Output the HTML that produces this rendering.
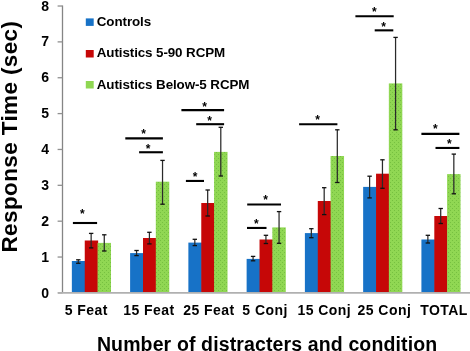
<!DOCTYPE html>
<html><head><meta charset="utf-8"><style>
html,body{margin:0;padding:0;background:#fff;}
body{width:470px;height:351px;overflow:hidden;font-family:"Liberation Sans",sans-serif;}
svg{display:block;will-change:transform;}
</style></head><body>
<svg width="470" height="351" viewBox="0 0 470 351">
<defs>
<pattern id="dots" width="4" height="4" patternUnits="userSpaceOnUse">
<rect width="4" height="4" fill="#90d753"/>
<rect x="0" y="0" width="1" height="1" fill="#76c040"/>
<rect x="2" y="2" width="1" height="1" fill="#76c040"/>
</pattern>
</defs>
<line x1="62.5" y1="5.42" x2="62.5" y2="292.90" stroke="#858585" stroke-width="1.3"/>
<line x1="57.6" y1="292.90" x2="62.5" y2="292.90" stroke="#909090" stroke-width="1.3"/>
<line x1="57.6" y1="257.04" x2="62.5" y2="257.04" stroke="#909090" stroke-width="1.3"/>
<line x1="57.6" y1="221.18" x2="62.5" y2="221.18" stroke="#909090" stroke-width="1.3"/>
<line x1="57.6" y1="185.32" x2="62.5" y2="185.32" stroke="#909090" stroke-width="1.3"/>
<line x1="57.6" y1="149.46" x2="62.5" y2="149.46" stroke="#909090" stroke-width="1.3"/>
<line x1="57.6" y1="113.60" x2="62.5" y2="113.60" stroke="#909090" stroke-width="1.3"/>
<line x1="57.6" y1="77.74" x2="62.5" y2="77.74" stroke="#909090" stroke-width="1.3"/>
<line x1="57.6" y1="41.88" x2="62.5" y2="41.88" stroke="#909090" stroke-width="1.3"/>
<line x1="57.6" y1="6.02" x2="62.5" y2="6.02" stroke="#909090" stroke-width="1.3"/>
<rect x="71.85" y="261.00" width="13.50" height="31.90" fill="#1772c7"/>
<rect x="84.75" y="240.50" width="13.40" height="52.40" fill="#c60707"/>
<rect x="97.55" y="242.90" width="13.45" height="50.00" fill="url(#dots)"/>
<rect x="130.11" y="253.10" width="13.50" height="39.80" fill="#1772c7"/>
<rect x="143.01" y="238.00" width="13.40" height="54.90" fill="#c60707"/>
<rect x="155.81" y="181.70" width="13.45" height="111.20" fill="url(#dots)"/>
<rect x="188.37" y="242.60" width="13.50" height="50.30" fill="#1772c7"/>
<rect x="201.27" y="203.00" width="13.40" height="89.90" fill="#c60707"/>
<rect x="214.07" y="151.90" width="13.45" height="141.00" fill="url(#dots)"/>
<rect x="246.63" y="258.90" width="13.50" height="34.00" fill="#1772c7"/>
<rect x="259.53" y="239.50" width="13.40" height="53.40" fill="#c60707"/>
<rect x="272.33" y="227.40" width="13.45" height="65.50" fill="url(#dots)"/>
<rect x="304.89" y="233.10" width="13.50" height="59.80" fill="#1772c7"/>
<rect x="317.79" y="201.00" width="13.40" height="91.90" fill="#c60707"/>
<rect x="330.59" y="156.00" width="13.45" height="136.90" fill="url(#dots)"/>
<rect x="363.15" y="186.90" width="13.50" height="106.00" fill="#1772c7"/>
<rect x="376.05" y="173.70" width="13.40" height="119.20" fill="#c60707"/>
<rect x="388.85" y="83.40" width="13.45" height="209.50" fill="url(#dots)"/>
<rect x="421.41" y="239.50" width="13.50" height="53.40" fill="#1772c7"/>
<rect x="434.31" y="216.00" width="13.40" height="76.90" fill="#c60707"/>
<rect x="447.11" y="174.10" width="13.45" height="118.80" fill="url(#dots)"/>
<line x1="58" y1="292.9" x2="470" y2="292.9" stroke="#b0b0b0" stroke-width="1.7"/>
<line x1="78.30" y1="259.80" x2="78.30" y2="263.30" stroke="#2a2a2a" stroke-width="1.25"/>
<line x1="76.10" y1="259.80" x2="80.50" y2="259.80" stroke="#111" stroke-width="1.3"/>
<line x1="76.10" y1="263.30" x2="80.50" y2="263.30" stroke="#111" stroke-width="1.3"/>
<line x1="91.15" y1="233.40" x2="91.15" y2="247.90" stroke="#2a2a2a" stroke-width="1.25"/>
<line x1="88.95" y1="233.40" x2="93.35" y2="233.40" stroke="#111" stroke-width="1.3"/>
<line x1="88.95" y1="247.90" x2="93.35" y2="247.90" stroke="#111" stroke-width="1.3"/>
<line x1="104.27" y1="234.80" x2="104.27" y2="251.00" stroke="#2a2a2a" stroke-width="1.25"/>
<line x1="102.07" y1="234.80" x2="106.47" y2="234.80" stroke="#111" stroke-width="1.3"/>
<line x1="102.07" y1="251.00" x2="106.47" y2="251.00" stroke="#111" stroke-width="1.3"/>
<line x1="136.56" y1="250.50" x2="136.56" y2="255.60" stroke="#2a2a2a" stroke-width="1.25"/>
<line x1="134.36" y1="250.50" x2="138.76" y2="250.50" stroke="#111" stroke-width="1.3"/>
<line x1="134.36" y1="255.60" x2="138.76" y2="255.60" stroke="#111" stroke-width="1.3"/>
<line x1="149.41" y1="232.30" x2="149.41" y2="243.90" stroke="#2a2a2a" stroke-width="1.25"/>
<line x1="147.21" y1="232.30" x2="151.61" y2="232.30" stroke="#111" stroke-width="1.3"/>
<line x1="147.21" y1="243.90" x2="151.61" y2="243.90" stroke="#111" stroke-width="1.3"/>
<line x1="162.53" y1="160.40" x2="162.53" y2="204.20" stroke="#2a2a2a" stroke-width="1.25"/>
<line x1="160.33" y1="160.40" x2="164.73" y2="160.40" stroke="#111" stroke-width="1.3"/>
<line x1="160.33" y1="204.20" x2="164.73" y2="204.20" stroke="#111" stroke-width="1.3"/>
<line x1="194.82" y1="239.30" x2="194.82" y2="245.60" stroke="#2a2a2a" stroke-width="1.25"/>
<line x1="192.62" y1="239.30" x2="197.02" y2="239.30" stroke="#111" stroke-width="1.3"/>
<line x1="192.62" y1="245.60" x2="197.02" y2="245.60" stroke="#111" stroke-width="1.3"/>
<line x1="207.67" y1="190.00" x2="207.67" y2="216.00" stroke="#2a2a2a" stroke-width="1.25"/>
<line x1="205.47" y1="190.00" x2="209.87" y2="190.00" stroke="#111" stroke-width="1.3"/>
<line x1="205.47" y1="216.00" x2="209.87" y2="216.00" stroke="#111" stroke-width="1.3"/>
<line x1="220.79" y1="127.30" x2="220.79" y2="176.00" stroke="#2a2a2a" stroke-width="1.25"/>
<line x1="218.59" y1="127.30" x2="222.99" y2="127.30" stroke="#111" stroke-width="1.3"/>
<line x1="218.59" y1="176.00" x2="222.99" y2="176.00" stroke="#111" stroke-width="1.3"/>
<line x1="253.08" y1="256.40" x2="253.08" y2="260.80" stroke="#2a2a2a" stroke-width="1.25"/>
<line x1="250.88" y1="256.40" x2="255.28" y2="256.40" stroke="#111" stroke-width="1.3"/>
<line x1="250.88" y1="260.80" x2="255.28" y2="260.80" stroke="#111" stroke-width="1.3"/>
<line x1="265.93" y1="235.30" x2="265.93" y2="243.50" stroke="#2a2a2a" stroke-width="1.25"/>
<line x1="263.73" y1="235.30" x2="268.13" y2="235.30" stroke="#111" stroke-width="1.3"/>
<line x1="263.73" y1="243.50" x2="268.13" y2="243.50" stroke="#111" stroke-width="1.3"/>
<line x1="279.06" y1="211.60" x2="279.06" y2="243.30" stroke="#2a2a2a" stroke-width="1.25"/>
<line x1="276.86" y1="211.60" x2="281.25" y2="211.60" stroke="#111" stroke-width="1.3"/>
<line x1="276.86" y1="243.30" x2="281.25" y2="243.30" stroke="#111" stroke-width="1.3"/>
<line x1="311.34" y1="228.70" x2="311.34" y2="237.70" stroke="#2a2a2a" stroke-width="1.25"/>
<line x1="309.14" y1="228.70" x2="313.54" y2="228.70" stroke="#111" stroke-width="1.3"/>
<line x1="309.14" y1="237.70" x2="313.54" y2="237.70" stroke="#111" stroke-width="1.3"/>
<line x1="324.19" y1="187.70" x2="324.19" y2="214.60" stroke="#2a2a2a" stroke-width="1.25"/>
<line x1="321.99" y1="187.70" x2="326.39" y2="187.70" stroke="#111" stroke-width="1.3"/>
<line x1="321.99" y1="214.60" x2="326.39" y2="214.60" stroke="#111" stroke-width="1.3"/>
<line x1="337.31" y1="129.80" x2="337.31" y2="182.50" stroke="#2a2a2a" stroke-width="1.25"/>
<line x1="335.12" y1="129.80" x2="339.51" y2="129.80" stroke="#111" stroke-width="1.3"/>
<line x1="335.12" y1="182.50" x2="339.51" y2="182.50" stroke="#111" stroke-width="1.3"/>
<line x1="369.60" y1="176.20" x2="369.60" y2="197.90" stroke="#2a2a2a" stroke-width="1.25"/>
<line x1="367.40" y1="176.20" x2="371.80" y2="176.20" stroke="#111" stroke-width="1.3"/>
<line x1="367.40" y1="197.90" x2="371.80" y2="197.90" stroke="#111" stroke-width="1.3"/>
<line x1="382.45" y1="159.80" x2="382.45" y2="188.30" stroke="#2a2a2a" stroke-width="1.25"/>
<line x1="380.25" y1="159.80" x2="384.65" y2="159.80" stroke="#111" stroke-width="1.3"/>
<line x1="380.25" y1="188.30" x2="384.65" y2="188.30" stroke="#111" stroke-width="1.3"/>
<line x1="395.57" y1="37.40" x2="395.57" y2="129.80" stroke="#2a2a2a" stroke-width="1.25"/>
<line x1="393.38" y1="37.40" x2="397.77" y2="37.40" stroke="#111" stroke-width="1.3"/>
<line x1="393.38" y1="129.80" x2="397.77" y2="129.80" stroke="#111" stroke-width="1.3"/>
<line x1="427.86" y1="235.30" x2="427.86" y2="243.00" stroke="#2a2a2a" stroke-width="1.25"/>
<line x1="425.66" y1="235.30" x2="430.06" y2="235.30" stroke="#111" stroke-width="1.3"/>
<line x1="425.66" y1="243.00" x2="430.06" y2="243.00" stroke="#111" stroke-width="1.3"/>
<line x1="440.71" y1="208.50" x2="440.71" y2="223.50" stroke="#2a2a2a" stroke-width="1.25"/>
<line x1="438.51" y1="208.50" x2="442.91" y2="208.50" stroke="#111" stroke-width="1.3"/>
<line x1="438.51" y1="223.50" x2="442.91" y2="223.50" stroke="#111" stroke-width="1.3"/>
<line x1="453.83" y1="154.10" x2="453.83" y2="193.80" stroke="#2a2a2a" stroke-width="1.25"/>
<line x1="451.63" y1="154.10" x2="456.03" y2="154.10" stroke="#111" stroke-width="1.3"/>
<line x1="451.63" y1="193.80" x2="456.03" y2="193.80" stroke="#111" stroke-width="1.3"/>
<line x1="72.9" y1="223.0" x2="97.1" y2="223.0" stroke="#000" stroke-width="2.1"/>
<text x="82.4" y="217.85" text-anchor="middle" font-family="Liberation Sans" font-weight="bold" font-size="12">*</text>
<line x1="125.3" y1="138.35" x2="162.9" y2="138.35" stroke="#000" stroke-width="2.1"/>
<text x="143.5" y="137.65" text-anchor="middle" font-family="Liberation Sans" font-weight="bold" font-size="12">*</text>
<line x1="139.1" y1="152.25" x2="162.9" y2="152.25" stroke="#000" stroke-width="2.1"/>
<text x="148" y="152.65" text-anchor="middle" font-family="Liberation Sans" font-weight="bold" font-size="12">*</text>
<line x1="181.4" y1="110.1" x2="224.1" y2="110.1" stroke="#000" stroke-width="2.1"/>
<text x="204.6" y="110.65" text-anchor="middle" font-family="Liberation Sans" font-weight="bold" font-size="12">*</text>
<line x1="196.2" y1="124.2" x2="224.1" y2="124.2" stroke="#000" stroke-width="2.1"/>
<text x="209.6" y="124.50" text-anchor="middle" font-family="Liberation Sans" font-weight="bold" font-size="12">*</text>
<line x1="185.9" y1="180.95" x2="204.0" y2="180.95" stroke="#000" stroke-width="2.1"/>
<text x="195" y="180.50" text-anchor="middle" font-family="Liberation Sans" font-weight="bold" font-size="12">*</text>
<line x1="247.2" y1="204.5" x2="281.0" y2="204.5" stroke="#000" stroke-width="2.1"/>
<text x="265.55" y="203.90" text-anchor="middle" font-family="Liberation Sans" font-weight="bold" font-size="12">*</text>
<line x1="247.0" y1="227.95" x2="266.5" y2="227.95" stroke="#000" stroke-width="2.1"/>
<text x="256.4" y="227.65" text-anchor="middle" font-family="Liberation Sans" font-weight="bold" font-size="12">*</text>
<line x1="299.1" y1="124.2" x2="337.4" y2="124.2" stroke="#000" stroke-width="2.1"/>
<text x="317.55" y="123.80" text-anchor="middle" font-family="Liberation Sans" font-weight="bold" font-size="12">*</text>
<line x1="355.4" y1="16.25" x2="393.7" y2="16.25" stroke="#000" stroke-width="2.1"/>
<text x="374.35" y="16.00" text-anchor="middle" font-family="Liberation Sans" font-weight="bold" font-size="12">*</text>
<line x1="374.7" y1="30.35" x2="393.3" y2="30.35" stroke="#000" stroke-width="2.1"/>
<text x="383.6" y="30.65" text-anchor="middle" font-family="Liberation Sans" font-weight="bold" font-size="12">*</text>
<line x1="421.4" y1="133.85" x2="459.4" y2="133.85" stroke="#000" stroke-width="2.1"/>
<text x="435.4" y="133.45" text-anchor="middle" font-family="Liberation Sans" font-weight="bold" font-size="12">*</text>
<line x1="435.5" y1="147.95" x2="459.4" y2="147.95" stroke="#000" stroke-width="2.1"/>
<text x="449.35" y="147.95" text-anchor="middle" font-family="Liberation Sans" font-weight="bold" font-size="12">*</text>
<text x="45.2" y="297.50" text-anchor="middle" font-family="Liberation Sans" font-weight="bold" font-size="14">0</text>
<text x="45.2" y="261.64" text-anchor="middle" font-family="Liberation Sans" font-weight="bold" font-size="14">1</text>
<text x="45.2" y="225.78" text-anchor="middle" font-family="Liberation Sans" font-weight="bold" font-size="14">2</text>
<text x="45.2" y="189.92" text-anchor="middle" font-family="Liberation Sans" font-weight="bold" font-size="14">3</text>
<text x="45.2" y="154.06" text-anchor="middle" font-family="Liberation Sans" font-weight="bold" font-size="14">4</text>
<text x="45.2" y="118.20" text-anchor="middle" font-family="Liberation Sans" font-weight="bold" font-size="14">5</text>
<text x="45.2" y="82.34" text-anchor="middle" font-family="Liberation Sans" font-weight="bold" font-size="14">6</text>
<text x="45.2" y="46.48" text-anchor="middle" font-family="Liberation Sans" font-weight="bold" font-size="14">7</text>
<text x="45.2" y="10.62" text-anchor="middle" font-family="Liberation Sans" font-weight="bold" font-size="14">8</text>
<rect x="85.8" y="18.4" width="7.9" height="7.5" fill="#1772c7"/>
<text x="96.8" y="26.0" font-family="Liberation Sans" font-weight="bold" font-size="13.4" letter-spacing="-0.1">Controls</text>
<rect x="85.8" y="50.0" width="7.9" height="7.5" fill="#c60707"/>
<text x="96.8" y="57.3" font-family="Liberation Sans" font-weight="bold" font-size="13.4" letter-spacing="-0.1">Autistics 5-90 RCPM</text>
<rect x="85.8" y="81.0" width="7.9" height="7.5" fill="#8fd752"/>
<text x="96.8" y="88.9" font-family="Liberation Sans" font-weight="bold" font-size="13.4" letter-spacing="-0.1">Autistics Below-5 RCPM</text>
<text x="86.3" y="315.2" text-anchor="middle" font-family="Liberation Sans" font-weight="bold" font-size="14" letter-spacing="0.45">5 Feat</text>
<text x="149" y="315.2" text-anchor="middle" font-family="Liberation Sans" font-weight="bold" font-size="14" letter-spacing="0.45">15 Feat</text>
<text x="209" y="315.2" text-anchor="middle" font-family="Liberation Sans" font-weight="bold" font-size="14" letter-spacing="0.45">25 Feat</text>
<text x="265.1" y="315.2" text-anchor="middle" font-family="Liberation Sans" font-weight="bold" font-size="14" letter-spacing="0.45">5 Conj</text>
<text x="324.3" y="315.2" text-anchor="middle" font-family="Liberation Sans" font-weight="bold" font-size="14" letter-spacing="0.45">15 Conj</text>
<text x="384.4" y="315.2" text-anchor="middle" font-family="Liberation Sans" font-weight="bold" font-size="14" letter-spacing="0.45">25 Conj</text>
<text x="444" y="315.2" text-anchor="middle" font-family="Liberation Sans" font-weight="bold" font-size="14" letter-spacing="0.45">TOTAL</text>
<text x="267.1" y="351.1" text-anchor="middle" font-family="Liberation Sans" font-weight="bold" font-size="19.5" letter-spacing="0.13">Number of distracters and condition</text>
<text transform="translate(16.5,136.6) rotate(-90)" text-anchor="middle" font-family="Liberation Sans" font-weight="bold" font-size="22.5" letter-spacing="0.38">Response Time (sec)</text>
</svg>
</body></html>
